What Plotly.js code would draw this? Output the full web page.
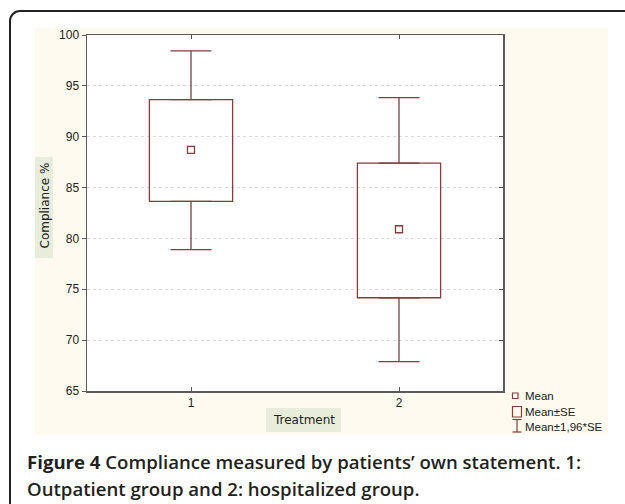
<!DOCTYPE html>
<html>
<head>
<meta charset="utf-8">
<script src="https://cdn.plot.ly/plotly-3.0.1.min.js"></script>
<style>
  html, body { margin: 0; padding: 0; overflow: hidden; background: #fff; }
  #wrap { position: relative; width: 625px; height: 504px; overflow: hidden; }
  #chart { position: absolute; left: 0; top: 0; width: 625px; height: 504px; }
  #frame { position: absolute; left: 9px; top: 10px; width: 660px; height: 540px;
           border: 2px solid #222; border-radius: 11px; pointer-events: none; }
</style>
</head>
<body>
<div id="wrap">
  <div id="chart"></div>
  <div id="frame"></div>
</div>
<script>
// ---- data ----
const categories = [1, 2];
const means = [88.7, 80.9];
const seLow = [83.65, 74.17];
const seHigh = [93.64, 87.41];
const ciLow = [78.9, 67.88];
const ciHigh = [98.43, 93.84];
const yTicks = [65, 70, 75, 80, 85, 90, 95, 100];
const xTickLabels = ['1', '2'];
const legendLabels = ['Mean', 'Mean±SE', 'Mean±1,96*SE'];
const yTitle = 'Compliance %';
const xTitle = 'Treatment';
const captionBold = 'Figure 4';
const captionLine1 = 'Compliance measured by patients\u2019 own statement. 1:';
const captionLine2 = 'Outpatient group and 2: hospitalized group.';

// ---- layout helpers (pixel -> paper) ----
const L = 87, R = 503, T = 35, B = 391;
const W = R - L, H = B - T;
const px = p => (p - L) / W;
const py = p => (B - p) / H;
const col = '#843c3c';

const zeros = categories.map(() => 0);
const upperWhisker = ciHigh.map((v, i) => v - seHigh[i]);
const lowerWhisker = seLow.map((v, i) => v - ciLow[i]);
const seSpan = seHigh.map((v, i) => v - seLow[i]);

const traces = [
  { // upper whiskers (Mean+SE .. Mean+1.96SE)
    type: 'scatter', mode: 'markers', x: categories, y: seHigh,
    marker: { size: 1, opacity: 0 },
    error_y: { type: 'data', symmetric: false, array: upperWhisker, arrayminus: zeros,
               color: col, thickness: 1.3, width: 20.5 },
    hoverinfo: 'skip', showlegend: false
  },
  { // lower whiskers
    type: 'scatter', mode: 'markers', x: categories, y: seLow,
    marker: { size: 1, opacity: 0 },
    error_y: { type: 'data', symmetric: false, array: zeros, arrayminus: lowerWhisker,
               color: col, thickness: 1.3, width: 20.5 },
    hoverinfo: 'skip', showlegend: false
  },
  { // Mean ± SE boxes
    type: 'bar', x: categories, y: seSpan, base: seLow, width: 0.4,
    marker: { color: 'rgba(255,255,255,0)', line: { color: col, width: 1.3 } },
    hoverinfo: 'skip', showlegend: false
  },
  { // means
    type: 'scatter', mode: 'markers', x: categories, y: means, yaxis: 'y2',
    marker: { symbol: 'square-open', size: 7, color: col, line: { width: 1.3, color: col } },
    hoverinfo: 'skip', showlegend: false
  }
];

const shapes = [
  { type: 'rect', xref: 'paper', yref: 'paper', x0: px(35), x1: px(608), y0: py(435), y1: py(28),
    fillcolor: '#fffaef', line: { width: 0 }, layer: 'below' },
  { type: 'rect', xref: 'paper', yref: 'paper', x0: 0, x1: 1, y0: 0, y1: 1,
    fillcolor: '#ffffff', line: { width: 0 }, layer: 'below' },
  { type: 'rect', xref: 'paper', yref: 'paper', x0: px(35), x1: px(53), y0: py(258), y1: py(157),
    fillcolor: '#e8eddb', line: { width: 0 }, layer: 'below' },
  { type: 'rect', xref: 'paper', yref: 'paper', x0: px(266), x1: px(341), y0: py(432), y1: py(408),
    fillcolor: '#e8eddb', line: { width: 0 }, layer: 'below' },
  // legend icons
  { type: 'rect', xref: 'paper', yref: 'paper', x0: px(512.5), x1: px(518), y0: py(398.5), y1: py(393),
    line: { color: col, width: 1.2 } },
  { type: 'rect', xref: 'paper', yref: 'paper', x0: px(512.5), x1: px(521.5), y0: py(417), y1: py(406.5),
    line: { color: col, width: 1.2 } },
  { type: 'line', xref: 'paper', yref: 'paper', x0: px(517), x1: px(517), y0: py(432), y1: py(419.5),
    line: { color: col, width: 1.2 } },
  { type: 'line', xref: 'paper', yref: 'paper', x0: px(512.5), x1: px(521.5), y0: py(419.5), y1: py(419.5),
    line: { color: col, width: 1.2 } },
  { type: 'line', xref: 'paper', yref: 'paper', x0: px(512.5), x1: px(521.5), y0: py(432), y1: py(432),
    line: { color: col, width: 1.2 } }
];

const legendY = [396, 412, 427];
const annotations = legendLabels.map((t, i) => ({
  xref: 'paper', yref: 'paper', x: px(522.5), y: py(legendY[i]), xanchor: 'left', yanchor: 'middle',
  text: t, showarrow: false, font: { family: 'Liberation Sans, Arial, sans-serif', size: 11.5, color: '#222' }
}));
annotations.push(
  { xref: 'paper', yref: 'paper', x: px(44.5), y: py(206), xanchor: 'center', yanchor: 'middle',
    text: yTitle, textangle: -90, showarrow: false,
    font: { family: 'DejaVu Sans, Verdana, sans-serif', size: 12, color: '#222' } },
  { xref: 'paper', yref: 'paper', x: px(303.5), y: py(420), xanchor: 'center', yanchor: 'middle',
    text: xTitle, showarrow: false,
    font: { family: 'DejaVu Sans, Verdana, sans-serif', size: 12, color: '#222' } },
  { xref: 'paper', yref: 'paper', x: px(25), y: py(461), xanchor: 'left', yanchor: 'middle',
    text: '<b>' + captionBold + '</b> ' + captionLine1, showarrow: false,
    font: { family: 'Open Sans, sans-serif', size: 18.6, color: '#231f20', weight: 600 } },
  { xref: 'paper', yref: 'paper', x: px(25), y: py(488), xanchor: 'left', yanchor: 'middle',
    text: captionLine2, showarrow: false,
    font: { family: 'Open Sans, sans-serif', size: 18.6, color: '#231f20', weight: 600 } }
);

const tickFont = { family: 'Liberation Sans, Arial, sans-serif', size: 12, color: '#222' };

const layout = {
  width: 625, height: 504,
  margin: { l: L, r: 625 - R, t: T, b: 504 - B, pad: 0 },
  paper_bgcolor: '#ffffff',
  plot_bgcolor: 'rgba(0,0,0,0)',
  showlegend: false,
  xaxis: {
    range: [0.5, 2.5], tickvals: categories, ticktext: xTickLabels,
    ticks: 'inside', ticklen: 4, tickcolor: '#555', mirror: 'ticks',
    showline: true, linecolor: '#5a5a5a', linewidth: 1.5,
    showgrid: false, zeroline: false, tickfont: tickFont
  },
  yaxis: {
    range: [65, 100], tickvals: yTicks,
    ticks: 'outside', ticklen: 4, tickcolor: '#555', mirror: true,
    showline: true, linecolor: '#5a5a5a', linewidth: 1.5,
    showgrid: true, gridcolor: '#dadada', griddash: 'dot', gridwidth: 1,
    zeroline: false, tickfont: tickFont
  },
  yaxis2: {
    range: [65, 100], tickvals: yTicks, overlaying: 'y', side: 'right',
    ticks: 'inside', ticklen: 4, tickcolor: '#555',
    showticklabels: false, showgrid: false, zeroline: false, showline: false
  },
  shapes: shapes,
  annotations: annotations
};

Plotly.newPlot('chart', traces, layout, { staticPlot: true, displayModeBar: false });
</script>
</body>
</html>
